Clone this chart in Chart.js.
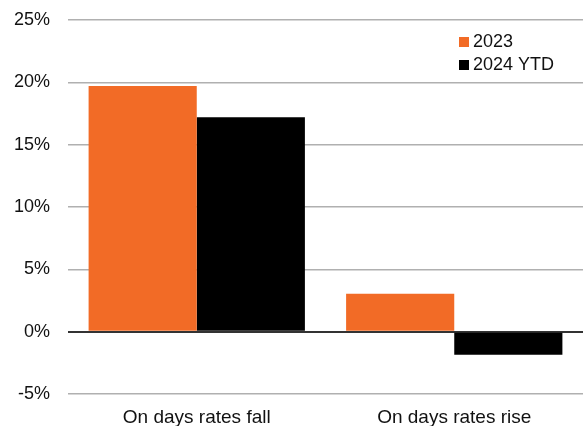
<!DOCTYPE html>
<html>
<head>
<meta charset="utf-8">
<script src="https://cdn.jsdelivr.net/npm/chart.js@4.4.1/dist/chart.umd.min.js"></script>
<style>
  html, body { margin: 0; padding: 0; background: #fff; }
  #wrap { position: relative; width: 583px; height: 426px; }
</style>
</head>
<body>
<div id="wrap"><canvas id="c" width="583" height="426"></canvas></div>
<script>
const categories = ['On days rates fall', 'On days rates rise'];
const series2023 = [19.7, 3.05];
const series2024 = [17.2, -1.85];
const seriesNames = ['2023', '2024 YTD'];
const seriesColors = ['#f26b26', '#000000'];
const yTicks = [-5, 0, 5, 10, 15, 20, 25];

const FONT = '"Liberation Sans", Arial, sans-serif';

// legend drawn inside the plot area, top right
const innerLegend = {
  id: 'innerLegend',
  afterDraw(chart) {
    const ctx = chart.ctx;
    ctx.save();
    ctx.font = '18px ' + FONT;
    ctx.textBaseline = 'middle';
    ctx.textAlign = 'left';
    chart.data.datasets.forEach((ds, i) => {
      const x = 459, y = 42 + i * 23;
      ctx.fillStyle = ds.backgroundColor;
      ctx.fillRect(x, y - 5, 10, 10);
      ctx.fillStyle = '#111';
      ctx.fillText(ds.label, x + 14, y);
    });
    ctx.restore();
  }
};

new Chart(document.getElementById('c'), {
  type: 'bar',
  data: {
    labels: categories,
    datasets: [
      { label: seriesNames[0], data: series2023, backgroundColor: seriesColors[0] },
      { label: seriesNames[1], data: series2024, backgroundColor: seriesColors[1] }
    ]
  },
  options: {
    responsive: false,
    animation: false,
    layout: { padding: { top: 20, right: 0, left: 0, bottom: 0 } },
    datasets: { bar: { categoryPercentage: 0.84, barPercentage: 1, borderWidth: 0 } },
    plugins: { legend: { display: false }, tooltip: { enabled: false } },
    scales: {
      x: {
        grid: { display: false, drawTicks: false },
        border: { display: false },
        ticks: { color: '#111', font: { family: FONT, size: 19 }, padding: 12 },
        afterFit(s) { s.height = 32; s.paddingLeft = 0; s.paddingRight = 0; }
      },
      y: {
        min: -5, max: 25,
        afterBuildTicks(s) { s.ticks = yTicks.map(v => ({ value: v })); },
        grid: {
          drawTicks: false,
          lineWidth: ctx => ctx.tick && ctx.tick.value === 0 ? 2 : 1.5,
          color: ctx => ctx.tick && ctx.tick.value === 0 ? '#333' : '#b0b0b0'
        },
        border: { display: false },
        ticks: {
          color: '#111',
          font: { family: FONT, size: 18 },
          padding: 18,
          callback: v => v + '%'
        },
        afterFit(s) { s.width = 68; s.paddingTop = 0; s.paddingBottom = 0; }
      }
    }
  },
  plugins: [innerLegend]
});
</script>
</body>
</html>
